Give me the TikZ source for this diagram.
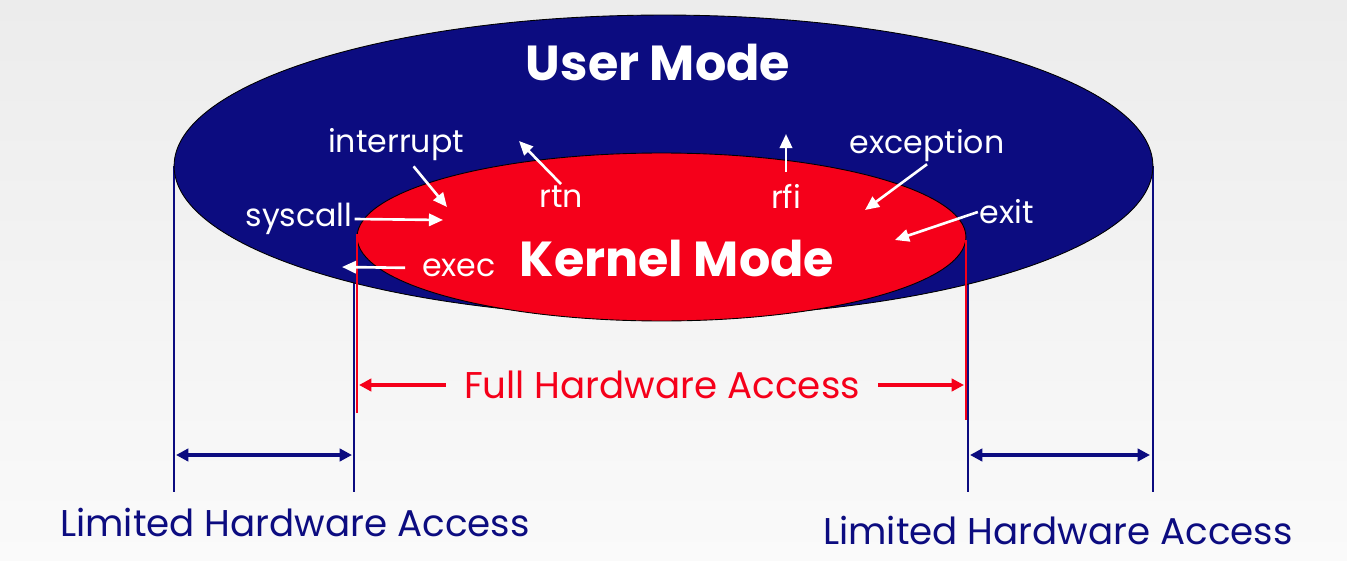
\documentclass[tikz,border=0pt]{standalone}
\usepackage{fontspec}
\setmainfont{Poppins}
\usetikzlibrary{shapes.geometric,arrows.meta}
\definecolor{navy}{RGB}{12,12,128}
\definecolor{hwred}{RGB}{245,0,26}
\definecolor{bgtop}{RGB}{236,236,236}
\definecolor{bgbot}{RGB}{250,250,250}
\tikzset{
  modeell/.style={shape=ellipse, draw=black, line width=0.5pt, inner sep=0pt},
  bigtxt/.style={text=white, font=\fontsize{28}{30}\selectfont\bfseries},
  lbl/.style={text=white, font=\fontsize{18}{20}\selectfont, inner sep=1pt},
  acctxt/.style={font=\fontsize{21.2}{24}\selectfont},
  wharrow/.style={draw=white, line width=1.5pt, -{Triangle[length=8pt,width=7pt]}},
  navyline/.style={draw=navy, line width=1.1pt},
  redline/.style={draw=hwred, line width=1.7pt},
  limarrow/.style={draw=navy, line width=2pt, {Triangle[length=7pt,width=7pt]}-{Triangle[length=7pt,width=7pt]}},
  fullarrow/.style={draw=hwred, line width=2pt, -{Triangle[length=7pt,width=7pt]}}
}
\begin{document}
\begin{tikzpicture}[x=0.02cm,y=-0.02cm]
\shade[top color=bgtop,bottom color=bgbot] (0,0) rectangle (1347,561);
\useasboundingbox (0,0) rectangle (1347,561);

% limit lines behind the modes
\coordinate (ul) at (174,166);
\coordinate (ur) at (1153,166);
\coordinate (kbl) at (354,240);
\coordinate (kbr) at (968,240);
\coordinate (bot) at (0,492);
\draw [navyline] (ul) -- (ul |- bot);
\draw [navyline] (ur) -- (ur |- bot);
\draw [navyline] (kbl) -- (kbl |- bot);
\draw [navyline] (kbr) -- (kbr |- bot);

% modes
\node (user) at (663.5,166) [modeell, fill=navy, minimum width=19.58cm, minimum height=6.04cm] {};
\node (kernel) at (661.5,237) [modeell, fill=hwred, minimum width=12.18cm, minimum height=3.36cm] {};
\node (userlbl) at (658,62) [bigtxt] {User Mode};
\node (kernellbl) at (677,258) [bigtxt] {Kernel Mode};

% full access lines
\coordinate (kl) at (357,234);
\coordinate (kr) at (966,240);
\draw [redline] (kl) -- (357,413);
\draw [redline] (kr) -- (966,420);

% transitions
\node (interrupt) at (396,145) [lbl] {interrupt};
\node (rtn) at (561,197) [lbl] {rtn};
\node (rfi) at (786,196) [lbl] {rfi};
\node (exception) at (927,146) [lbl] {exception};
\node (syscall) at (299,219) [lbl] {syscall};
\node (exit) at (1007,212) [lbl] {exit};
\node (exec) at (459,268) [lbl] {exec};

\coordinate (intend) at (447,207);
\coordinate (rtnend) at (519,141);
\coordinate (rfiend) at (786,134);
\coordinate (excend) at (865,210);
\coordinate (sysend) at (443,220);
\coordinate (exitend) at (895,240);
\coordinate (execend) at (342,267);

\path (interrupt) edge [wharrow, shorten <=0.08cm] (intend);
\path (rtn.north) edge [wharrow] (rtnend);
\path (rfi.north) edge [wharrow, shorten <=0.2cm] (rfiend);
\path (exception.south) edge [wharrow] (excend);
\path (syscall.east) edge [wharrow] (sysend);
\path (exit.west) edge [wharrow] (exitend);
\path (exec.west) edge [wharrow, shorten <=0.3cm] (execend);

% access ranges
\node (full) at (662,385) [acctxt, text=hwred] {Full Hardware Access};
\node (limleft) at (295,522) [acctxt, text=navy] {Limited Hardware Access};
\node (limright) at (1058,530) [acctxt, text=navy] {Limited Hardware Access};

\coordinate (fl) at (359,385);
\coordinate (fr) at (964,385);
\path (full.west) edge [fullarrow, shorten <=0.24cm] (fl);
\path (full.east) edge [fullarrow, shorten <=0.24cm] (fr);

\coordinate (ll) at (176,455);
\coordinate (lr) at (352,455);
\coordinate (rl) at (970,455);
\coordinate (rr) at (1150,455);
\path (ll) edge [limarrow] (lr);
\path (rl) edge [limarrow] (rr);
\end{tikzpicture}
\end{document}
